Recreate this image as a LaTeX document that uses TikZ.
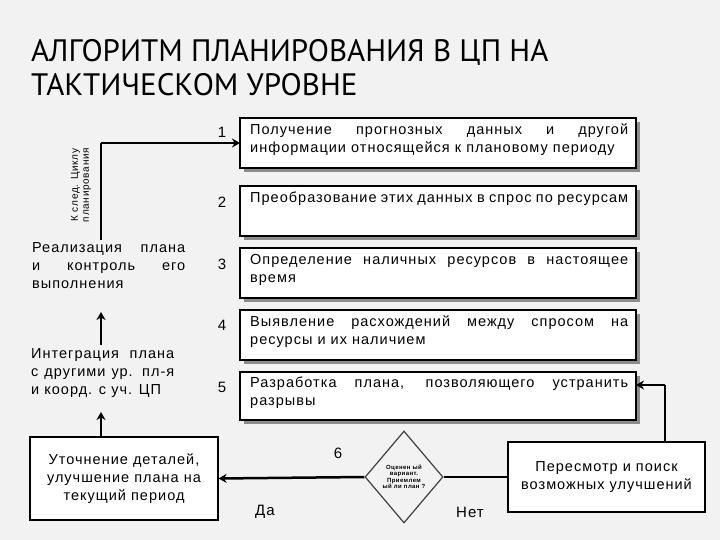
\documentclass[tikz,border=0pt]{standalone}
\usepackage{fontspec}
\setmainfont[LetterSpace=7]{Liberation Sans}
\newfontfamily\titlefont{PT Sans}
\usetikzlibrary{shapes.geometric,arrows.meta}
\begin{document}
\begin{tikzpicture}[x=1pt,y=-1pt,
 shad/.style={fill=black!45},
 ltxt/.style={font=\fontsize{14.5}{18}\selectfont,align=justify,anchor=north west,inner sep=0pt,text width=153pt},
 num/.style={font=\fontsize{15}{17}\selectfont},
 arr/.style={line width=2.5pt,-{Stealth[length=8pt,width=9pt]}},
 ln/.style={line width=2.5pt}]
\useasboundingbox (0,0) rectangle (720,540);
\fill[gray!10] (0,0) rectangle (720,540);
\node[font=\titlefont\fontsize{31}{34}\selectfont,anchor=north west,align=left,inner sep=0pt] (title) at (31,39) {АЛГОРИТМ ПЛАНИРОВАНИЯ В ЦП НА\\ТАКТИЧЕСКОМ УРОВНЕ};
% right boxes
\foreach \y/\h in {118/50,186/50,248/50,310/50,372/48}{
 \fill[shad] (244,\y+4) rectangle (640,\y+\h+4);
}
\draw[line width=1.2pt,fill=white] (240,118) rectangle (636,168);
\node[ltxt,text width=378pt] (b1) at (250,124) {Получение прогнозных данных и другой информации относящейся к плановому периоду};
\draw[line width=1.2pt,fill=white] (240,186) rectangle (636,236);
\node[ltxt,text width=378pt] (b2) at (250,192) {Преобразование этих данных в спрос по ресурсам};
\draw[line width=1.2pt,fill=white] (240,248) rectangle (636,298);
\node[ltxt,text width=378pt] (b3) at (250,254) {Определение наличных ресурсов в настоящее время};
\draw[line width=1.2pt,fill=white] (240,310) rectangle (636,360);
\node[ltxt,text width=378pt] (b4) at (250,316) {Выявление расхождений между спросом на ресурсы и их наличием};
\draw[line width=1.2pt,fill=white] (240,372) rectangle (636,420);
\node[ltxt,text width=378pt] (b5) at (250,377) {Разработка плана, позволяющего устранить разрывы};
\coordinate (b1w) at (240,143);
\coordinate (b5e) at (636,385);
\node[num] (n1) at (222,132) {1};
\node[num] (n2) at (222,202) {2};
\node[num] (n3) at (222,264) {3};
\node[num] (n4) at (222,325) {4};
\node[num] (n5) at (222,387) {5};
\node[num] (n6) at (338,453) {6};
% left
\node[ltxt] (real) at (32,242) {Реализация плана и контроль его выполнения};
\node[ltxt,text width=143pt] (integ) at (31,348) {Интеграция плана с другими ур. пл-я и коорд. с уч. ЦП};
\node[draw,line width=1.2pt,fill=white,minimum width=188pt,minimum height=83pt,align=center,font=\fontsize{14.5}{18}\selectfont] (utoch) at (124,478.5) {Уточнение деталей,\\улучшение плана на\\текущий период};
\node[rotate=90,font=\fontsize{10}{11}\selectfont,align=center] (next) at (81,185) {К след. Циклу\\планирования};
\coordinate (c1) at (101,143);
\coordinate (realtop) at (101,240);
\coordinate (realbot) at (101,312);
\coordinate (intop) at (101,345);
\coordinate (inbot) at (101,412);
\draw[ln] (realtop) -- (c1);
\draw[arr] (c1) -- (b1w);
\draw[arr] (intop) -- (realbot);
\draw[arr] (utoch.north -| inbot) -- (inbot);
% diamond
\node[diamond,draw=black!75,line width=1.2pt,fill=gray!10,minimum width=78pt,minimum height=92pt,inner sep=0pt,align=center,font=\fontsize{6}{6.5}\selectfont\bfseries] (dia) at (404,477) {Оценен ый\\вариант.\\Приемлем\\ый ли план ?};
\draw[arr] (dia.west) -- (utoch.east);
\node[draw,line width=1.2pt,fill=white,minimum width=197pt,minimum height=70pt,align=center,font=\fontsize{14.5}{18}\selectfont] (pere) at (606.5,477) {Пересмотр и поиск\\возможных улучшений};
\draw[ln] (dia.east) -- (pere.west);
\coordinate (pt) at (665,385);
\draw[ln] (pere.north -| pt) -- (pt);
\draw[arr] (pt) -- (b5e);
\node[font=\fontsize{15}{17}\selectfont] (da) at (265,512) {Да};
\node[font=\fontsize{15}{17}\selectfont] (net) at (470,512) {Нет};
\end{tikzpicture}
\end{document}
